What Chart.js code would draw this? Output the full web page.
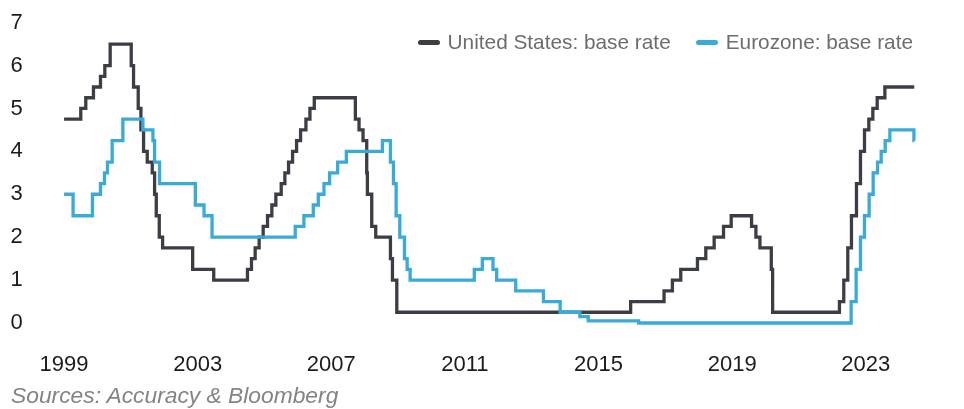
<!DOCTYPE html>
<html>
<head>
<meta charset="utf-8">
<script src="https://cdn.jsdelivr.net/npm/chart.js@4.4.1/dist/chart.umd.min.js"></script>
<style>
    html, body { margin: 0; padding: 0; background: #fff; }
    #wrap { position: relative; width: 964px; height: 409px; font-family: "Liberation Sans", Arial, sans-serif; }
    #legend { position: absolute; top: 30px; right: 51px; display: flex; align-items: center; font-size: 20.8px; color: #6b6d70; line-height: 24px; }
    .item { display: flex; align-items: center; margin-left: 25px; }
    .swatch { width: 22px; height: 5px; border-radius: 3px; margin-right: 8px; }
    #source { position: absolute; left: 11px; top: 382px; font-size: 22.8px; font-style: italic; color: #848484; }
</style>
</head>
<body>
<div id="wrap">
    <canvas id="chart_rates"></canvas>
    <div id="legend">
        <div class="item"><span class="swatch" style="background:#3b3e45"></span>United States: base rate</div>
        <div class="item"><span class="swatch" style="background:#3aaad8"></span>Eurozone: base rate</div>
    </div>
    <div id="source">Sources: Accuracy &amp; Bloomberg</div>
</div>
<script>
// rate change dates (decimal years) and the new rate from that date on
var us_dates = [1999.00, 1999.50, 1999.65, 1999.88, 2000.09, 2000.22, 2000.38,
    2001.01, 2001.08, 2001.22, 2001.30, 2001.38, 2001.49, 2001.64, 2001.71, 2001.76, 2001.85, 2001.95,
    2002.85, 2003.48,
    2004.49, 2004.61, 2004.72, 2004.84, 2004.96, 2005.09, 2005.22, 2005.34, 2005.50, 2005.61, 2005.72,
    2005.84, 2005.96, 2006.08, 2006.24, 2006.36, 2006.49,
    2007.72, 2007.83, 2007.95, 2008.06, 2008.08, 2008.21, 2008.33, 2008.77, 2008.83, 2008.96,
    2015.96, 2016.96, 2017.21, 2017.46, 2017.96, 2018.21, 2018.46, 2018.74, 2018.97,
    2019.58, 2019.71, 2019.83, 2020.17, 2020.21,
    2022.21, 2022.34, 2022.46, 2022.57, 2022.72, 2022.84, 2022.96, 2023.09, 2023.21, 2023.34, 2023.57];
var us_rate = [4.75, 5.00, 5.25, 5.50, 5.75, 6.00, 6.50,
    6.00, 5.50, 5.00, 4.50, 4.00, 3.75, 3.50, 3.00, 2.50, 2.00, 1.75,
    1.25, 1.00,
    1.25, 1.50, 1.75, 2.00, 2.25, 2.50, 2.75, 3.00, 3.25, 3.50, 3.75,
    4.00, 4.25, 4.50, 4.75, 5.00, 5.25,
    4.75, 4.50, 4.25, 3.50, 3.00, 2.25, 2.00, 1.50, 1.00, 0.25,
    0.50, 0.75, 1.00, 1.25, 1.50, 1.75, 2.00, 2.25, 2.50,
    2.25, 2.00, 1.75, 1.25, 0.25,
    0.50, 1.00, 1.75, 2.50, 3.25, 4.00, 4.50, 4.75, 5.00, 5.25, 5.50];

var ez_dates = [1999.00, 1999.27, 1999.85, 2000.09, 2000.21, 2000.30, 2000.44, 2000.76,
    2001.36, 2001.66, 2001.71, 2001.86, 2002.93, 2003.19, 2003.43,
    2005.92, 2006.18, 2006.46, 2006.61, 2006.78, 2006.95, 2007.19, 2007.45, 2008.53,
    2008.77, 2008.86, 2008.94, 2009.05, 2009.19, 2009.27, 2009.36,
    2011.28, 2011.52, 2011.84, 2011.95, 2012.52, 2013.35, 2013.85, 2014.44, 2014.69, 2016.20,
    2022.56, 2022.71, 2022.84, 2022.96, 2023.10, 2023.22, 2023.35, 2023.46, 2023.58, 2023.72, 2024.44];
var ez_rate = [3.00, 2.50, 3.00, 3.25, 3.50, 3.75, 4.25, 4.75,
    4.50, 4.25, 3.75, 3.25, 2.75, 2.50, 2.00,
    2.25, 2.50, 2.75, 3.00, 3.25, 3.50, 3.75, 4.00, 4.25,
    3.75, 3.25, 2.50, 2.00, 1.50, 1.25, 1.00,
    1.25, 1.50, 1.25, 1.00, 0.75, 0.50, 0.25, 0.15, 0.05, 0.00,
    0.50, 1.25, 2.00, 2.50, 3.00, 3.50, 3.75, 4.00, 4.25, 4.50, 4.25];

var end_date = 2024.45;

var x_ticks = [1999, 2003, 2007, 2011, 2015, 2019, 2023];
var y_ticks = [0, 1, 2, 3, 4, 5, 6, 7];

var font_family = '"Liberation Sans", Arial, sans-serif';

function toPoints(_dates, _rates) {
    let pts = [];
    for (let i = 0; i < _dates.length; i++) {
        pts.push({x: _dates[i], y: _rates[i]});
    }
    pts.push({x: end_date, y: _rates[_rates.length - 1]});
    return pts;
}

function drawChart_rates() {
    new Chart(document.getElementById('chart_rates').getContext('2d'), {
        type: 'line',
        data: {
            datasets: [
                {
                    label: 'United States: base rate',
                    data: toPoints(us_dates, us_rate),
                    borderColor: '#3b3e45',
                    order: 1,
                },
                {
                    label: 'Eurozone: base rate',
                    data: toPoints(ez_dates, ez_rate),
                    borderColor: '#3aaad8',
                    order: 0,
                }
            ],
        },
        options: {
            responsive: true,
            maintainAspectRatio: false,
            animation: false,
            layout: { padding: { top: 0, right: 18, bottom: 26, left: 10.5 } },
            elements: {
                point: { radius: 0 },
                line: { borderWidth: 3.3, stepped: 'before', fill: false, borderJoinStyle: 'miter', borderCapStyle: 'butt' }
            },
            plugins: {
                legend: { display: false },
                tooltip: { enabled: false }
            },
            scales: {
                x: {
                    type: 'linear',
                    min: 1998.6,
                    max: 2025.4,
                    grid: { display: false, drawTicks: false },
                    border: { display: false },
                    afterBuildTicks: (s) => { s.ticks = x_ticks.map(v => ({value: v})); },
                    ticks: {
                        padding: 5,
                        color: '#1c1c1c',
                        font: { size: 22, family: font_family },
                        maxRotation: 0,
                        autoSkip: false,
                        callback: (v) => String(v)
                    }
                },
                y: {
                    min: -0.55,
                    max: 7.22,
                    grid: { display: false, drawTicks: false },
                    border: { display: false },
                    afterBuildTicks: (s) => { s.ticks = y_ticks.map(v => ({value: v})); },
                    afterFit: (s) => { s.width = 40.2; },
                    ticks: {
                        padding: 0,
                        crossAlign: 'far',
                        color: '#1c1c1c',
                        font: { size: 22, family: font_family },
                        callback: (v) => String(v)
                    }
                }
            }
        }
    });
}

drawChart_rates();
</script>
</body>
</html>
